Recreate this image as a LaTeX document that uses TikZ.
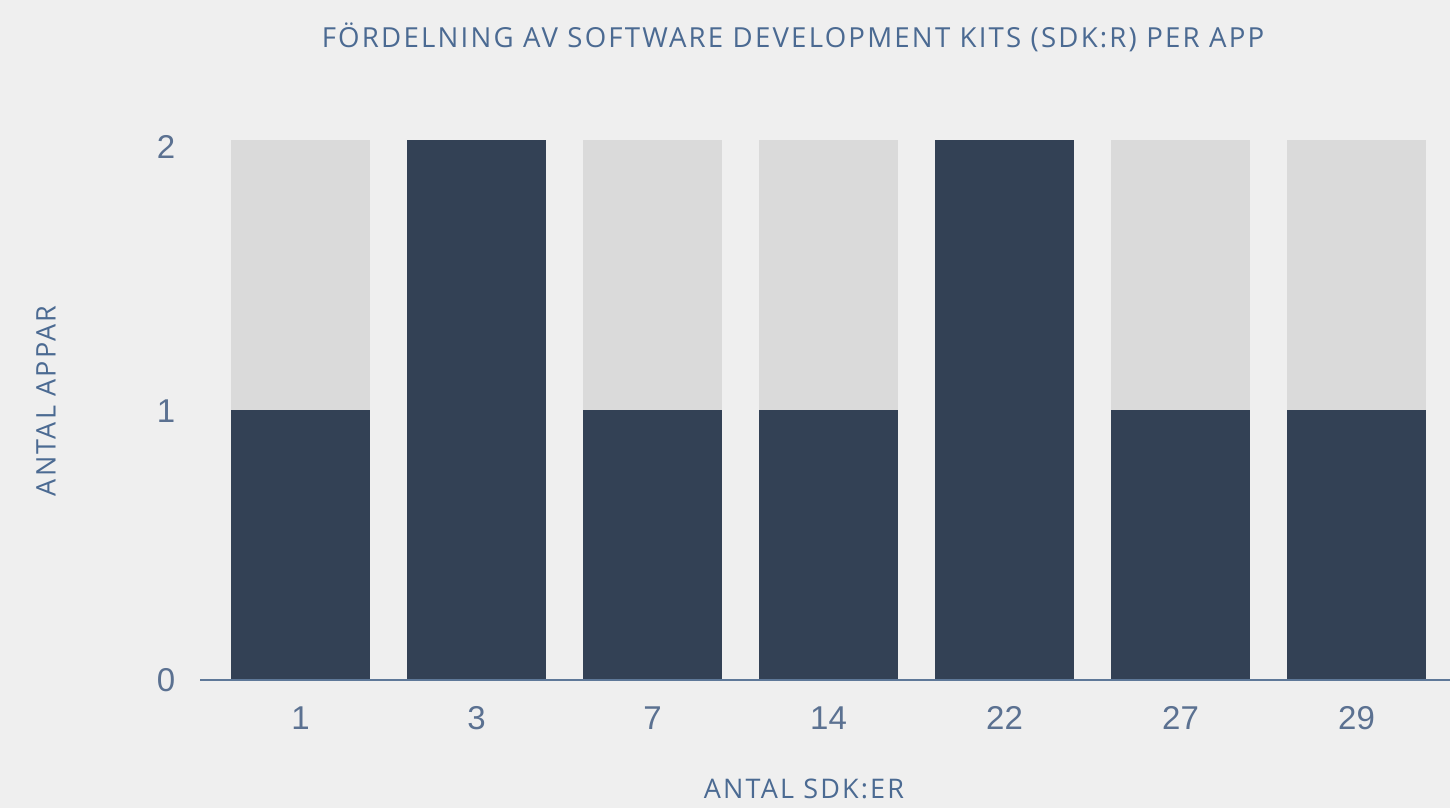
\documentclass[tikz,border=0pt]{standalone}
\usepackage{fontspec}
\setmainfont{Liberation Sans}
\newfontfamily\titlefont[LetterSpace=8]{Open Sans}
\usetikzlibrary{calc}
\definecolor{bgcol}{HTML}{EFEFEF}
\definecolor{barlight}{HTML}{DADADA}
\definecolor{bardark}{HTML}{334155}
\definecolor{axiscol}{HTML}{5E7898}
\definecolor{tickcol}{HTML}{5B7191}
\definecolor{titlecol}{HTML}{4B6A92}

\begin{document}
\begin{tikzpicture}[x=0.5pt,y=-0.5pt]
	\fill[bgcol] (0,0) rectangle (1450,808);
	\useasboundingbox (0,0) rectangle (1450,808);
	% bars: 2 as background, value on top
	\foreach \n/\cx/\val/\xtext in {1/300.5/1/1, 2/476.5/2/3, 3/652.5/1/7, 4/828.5/1/14, 5/1004.5/2/22, 6/1180.5/1/27, 7/1356.5/1/29} {
		\fill[barlight] (\cx-69.5,140) rectangle (\cx+69.5,680);
		\fill[bardark] (\cx-69.5,680-270*\val) rectangle (\cx+69.5,680);
		\node[tickcol, font=\fontsize{16.5}{18}\selectfont] (xt\n) at (\cx,718) {\xtext};
	}
	\draw[axiscol, line width=1.2pt] (200,680) -- (1450,680);
	\foreach \y/\ytext in {680/0, 411/1, 147/2}
		\node[tickcol, font=\fontsize{16.5}{18}\selectfont] (yt\ytext) at (166,\y) {\ytext};
	\node[titlecol, font=\titlefont\fontsize{13.8}{16}\selectfont] (title) at (793,37) {FÖRDELNING AV SOFTWARE DEVELOPMENT KITS (SDK:R) PER APP};
	\node[titlecol, font=\titlefont\fontsize{13.5}{16}\selectfont] (xlabel) at (804,789) {ANTAL SDK:ER};
	\node[titlecol, rotate=90, font=\titlefont\fontsize{13.5}{16}\selectfont] (ylabel) at (46,401) {ANTAL APPAR};
\end{tikzpicture}
\end{document}
